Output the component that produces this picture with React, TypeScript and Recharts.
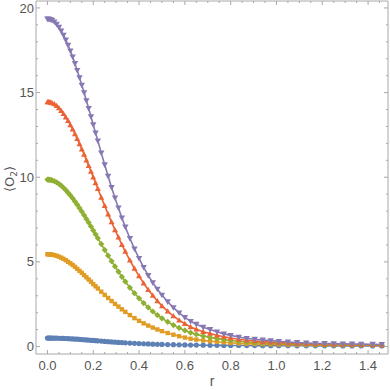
import React from 'react';
import { LineChart, Line, XAxis, YAxis } from 'recharts';

const rValues = [0, 0.005, 0.01, 0.015, 0.02, 0.03, 0.04, 0.05, 0.06, 0.07, 0.08, 0.09, 0.1, 0.11, 0.12, 0.13, 0.14, 0.15, 0.16, 0.17, 0.18, 0.19, 0.2, 0.21, 0.22, 0.235, 0.25, 0.265, 0.28, 0.295, 0.31, 0.325, 0.34, 0.36, 0.38, 0.4, 0.42, 0.44, 0.46, 0.48, 0.5, 0.525, 0.55, 0.575, 0.6, 0.625, 0.65, 0.68, 0.71, 0.74, 0.77, 0.8, 0.835, 0.87, 0.905, 0.94, 0.975, 1.01, 1.05, 1.09, 1.13, 1.17, 1.21, 1.25, 1.29, 1.33, 1.37, 1.42, 1.46];

const blueSeries = [0.5, 0.5, 0.5, 0.5, 0.499, 0.497, 0.494, 0.49, 0.486, 0.481, 0.475, 0.468, 0.46, 0.452, 0.443, 0.434, 0.424, 0.414, 0.403, 0.392, 0.381, 0.37, 0.359, 0.348, 0.337, 0.321, 0.305, 0.29, 0.275, 0.26, 0.246, 0.233, 0.22, 0.204, 0.19, 0.176, 0.164, 0.153, 0.143, 0.134, 0.126, 0.117, 0.109, 0.102, 0.096, 0.09, 0.085, 0.08, 0.075, 0.071, 0.067, 0.064, 0.061, 0.058, 0.055, 0.053, 0.051, 0.049, 0.047, 0.045, 0.044, 0.042, 0.041, 0.04, 0.039, 0.038, 0.037, 0.036, 0.035];

const orangeSeries = [5.45, 5.45, 5.44, 5.44, 5.43, 5.4, 5.36, 5.31, 5.25, 5.18, 5.1, 5.01, 4.92, 4.82, 4.71, 4.59, 4.47, 4.35, 4.22, 4.09, 3.96, 3.83, 3.69, 3.56, 3.43, 3.24, 3.05, 2.87, 2.69, 2.52, 2.36, 2.2, 2.05, 1.86, 1.68, 1.52, 1.37, 1.24, 1.12, 1.01, 0.91, 0.8, 0.7, 0.61, 0.53, 0.46, 0.41, 0.36, 0.32, 0.28, 0.25, 0.22, 0.19, 0.17, 0.155, 0.145, 0.135, 0.125, 0.115, 0.11, 0.105, 0.1, 0.097, 0.094, 0.091, 0.088, 0.085, 0.082, 0.08];

const greenSeries = [9.86, 9.86, 9.85, 9.84, 9.82, 9.77, 9.7, 9.61, 9.51, 9.38, 9.24, 9.09, 8.93, 8.76, 8.57, 8.38, 8.18, 7.97, 7.76, 7.54, 7.32, 7.09, 6.86, 6.63, 6.4, 6.05, 5.71, 5.37, 5.04, 4.73, 4.42, 4.12, 3.84, 3.48, 3.15, 2.85, 2.57, 2.31, 2.07, 1.86, 1.67, 1.46, 1.27, 1.1, 0.95, 0.82, 0.72, 0.62, 0.54, 0.47, 0.41, 0.36, 0.31, 0.27, 0.235, 0.21, 0.19, 0.17, 0.15, 0.135, 0.125, 0.115, 0.11, 0.105, 0.1, 0.095, 0.09, 0.085, 0.08];

const redSeries = [14.45, 14.45, 14.44, 14.42, 14.39, 14.32, 14.22, 14.09, 13.93, 13.75, 13.55, 13.33, 13.09, 12.83, 12.56, 12.27, 11.97, 11.66, 11.34, 11.01, 10.68, 10.34, 10.0, 9.66, 9.32, 8.81, 8.31, 7.82, 7.35, 6.89, 6.45, 6.02, 5.61, 5.09, 4.61, 4.16, 3.74, 3.36, 3.01, 2.69, 2.4, 2.08, 1.8, 1.56, 1.35, 1.16, 1.02, 0.88, 0.77, 0.67, 0.58, 0.5, 0.43, 0.37, 0.33, 0.29, 0.26, 0.23, 0.2, 0.18, 0.16, 0.145, 0.137, 0.13, 0.123, 0.116, 0.108, 0.1, 0.094];

const purpleSeries = [19.35, 19.35, 19.33, 19.31, 19.27, 19.18, 19.04, 18.87, 18.65, 18.4, 18.11, 17.8, 17.47, 17.11, 16.72, 16.31, 15.89, 15.44, 15.0, 14.53, 14.07, 13.58, 13.1, 12.62, 12.15, 11.44, 10.74, 10.06, 9.4, 8.78, 8.19, 7.6, 7.06, 6.39, 5.77, 5.21, 4.68, 4.2, 3.77, 3.39, 3.04, 2.65, 2.3, 1.99, 1.72, 1.49, 1.32, 1.14, 1.01, 0.87, 0.75, 0.66, 0.56, 0.48, 0.43, 0.39, 0.35, 0.31, 0.27, 0.24, 0.21, 0.19, 0.18, 0.17, 0.16, 0.155, 0.145, 0.135, 0.125];

const xMajorTicks = [0, 0.2, 0.4, 0.6, 0.8, 1.0, 1.2, 1.4];
const xTickLabels = ['0.0', '0.2', '0.4', '0.6', '0.8', '1.0', '1.2', '1.4'];
const xAllTicks = [0, 0.05, 0.1, 0.15, 0.2, 0.25, 0.3, 0.35, 0.4, 0.45, 0.5, 0.55, 0.6, 0.65, 0.7, 0.75, 0.8, 0.85, 0.9, 0.95, 1.0, 1.05, 1.1, 1.15, 1.2, 1.25, 1.3, 1.35, 1.4, 1.45];
const yMajorTicks = [0, 5, 10, 15, 20];
const yTickLabels = ['0', '5', '10', '15', '20'];
const yAllTicks = [0, 1, 2, 3, 4, 5, 6, 7, 8, 9, 10, 11, 12, 13, 14, 15, 16, 17, 18, 19, 20];

const xDomain = [-0.05, 1.487];
const yDomain = [-0.44, 20.41];

const data = rValues.map((r, i) => ({
  r,
  s1: blueSeries[i],
  s2: orangeSeries[i],
  s3: greenSeries[i],
  s4: redSeries[i],
  s5: purpleSeries[i],
}));

const FRAME = '#a8a8a8';
const TEXT = '#555555';
const FONT = '"Liberation Sans", Arial, sans-serif';
const MAJOR_LEN = 4;
const MINOR_LEN = 2;
const M = 10;
const TICK_FS = 13;

const COLORS = {
  blue: '#5E81B5',
  orange: '#E19C24',
  green: '#8FB032',
  red: '#EB6235',
  purple: '#8778B3',
};

const majorIndex = (list: number[], v: number) => list.findIndex((t) => Math.abs(t - v) < 1e-6);

const BottomTick = (p: any) => {
  const fy = p.y - M;
  const i = majorIndex(xMajorTicks, p.payload.value);
  const len = i >= 0 ? MAJOR_LEN : MINOR_LEN;
  return (
    <g>
      <line x1={p.x} x2={p.x} y1={fy} y2={fy - len} stroke={FRAME} />
      {i >= 0 && (
        <text x={p.x} y={fy + 15.5} textAnchor="middle" fill={TEXT} fontSize={TICK_FS} fontFamily={FONT}>{xTickLabels[i]}</text>
      )}
    </g>
  );
};
const TopTick = (p: any) => {
  const fy = p.y + M;
  const i = majorIndex(xMajorTicks, p.payload.value);
  const len = i >= 0 ? MAJOR_LEN : MINOR_LEN;
  return <line x1={p.x} x2={p.x} y1={fy} y2={fy + len} stroke={FRAME} />;
};
const LeftTick = (p: any) => {
  const fx = p.x + M;
  const i = majorIndex(yMajorTicks, p.payload.value);
  const len = i >= 0 ? MAJOR_LEN : MINOR_LEN;
  return (
    <g>
      <line x1={fx} x2={fx + len} y1={p.y} y2={p.y} stroke={FRAME} />
      {i >= 0 && (
        <text x={fx - 2} y={p.y + 4.6} textAnchor="end" fill={TEXT} fontSize={TICK_FS} fontFamily={FONT}>{yTickLabels[i]}</text>
      )}
    </g>
  );
};
const RightTick = (p: any) => {
  const fx = p.x - M;
  const i = majorIndex(yMajorTicks, p.payload.value);
  const len = i >= 0 ? MAJOR_LEN : MINOR_LEN;
  return <line x1={fx} x2={fx - len} y1={p.y} y2={p.y} stroke={FRAME} />;
};

type DotP = { cx?: number; cy?: number; index?: number };

const circleDot = (p: DotP) => (
  <circle key={`c${p.index}`} cx={p.cx} cy={p.cy} r={2.6} fill={COLORS.blue} />
);
const squareDot = (p: DotP) => (
  <rect key={`s${p.index}`} x={(p.cx as number) - 2.2} y={(p.cy as number) - 2.2} width={4.4} height={4.4} fill={COLORS.orange} />
);
const diamondDot = (p: DotP) => {
  const x = p.cx as number, y = p.cy as number, d = 3.1;
  return <path key={`d${p.index}`} d={`M${x},${y - d}L${x + d},${y}L${x},${y + d}L${x - d},${y}Z`} fill={COLORS.green} />;
};
const upDot = (p: DotP) => {
  const x = p.cx as number, y = p.cy as number, s = 3;
  return <path key={`u${p.index}`} d={`M${x},${y - s}L${x + s},${y + s * 0.75}L${x - s},${y + s * 0.75}Z`} fill={COLORS.red} />;
};
const downDot = (p: DotP) => {
  const x = p.cx as number, y = p.cy as number, s = 3.2;
  return <path key={`v${p.index}`} d={`M${x},${y + s}L${x + s},${y - s * 0.75}L${x - s},${y - s * 0.75}Z`} fill={COLORS.purple} />;
};

const XLabel = () => (
  <text x={212} y={386} textAnchor="middle" fill={TEXT} fontSize={14} fontFamily={FONT}>r</text>
);
const YLabel = () => (
  <text x={0} y={0} transform="translate(13.5,179) rotate(-90)" textAnchor="middle" fill={TEXT} fontSize={13} fontFamily='"DejaVu Sans", sans-serif'>
    ⟨O<tspan fontSize={9} dy={3}>2</tspan><tspan dy={-3}>⟩</tspan>
  </text>
);

export default function App() {
  return (
    <div style={{ position: 'absolute', left: 0, top: 0, width: 390, height: 390, background: '#fff' }}>
      <LineChart width={390} height={390} data={data} margin={{ top: 0, right: 0, bottom: 0, left: 0 }}>
        <XAxis
          xAxisId="x"
          dataKey="r"
          type="number"
          orientation="bottom"
          domain={xDomain}
          allowDataOverflow
          ticks={xAllTicks}
          interval={0}
          height={36}
          tickSize={0}
          tickMargin={M}
          axisLine={{ stroke: FRAME }}
          tickLine={false}
          tick={BottomTick}
          label={XLabel}
        />
        <XAxis xAxisId="xt" dataKey="r" type="number" orientation="top" domain={xDomain} allowDataOverflow ticks={xAllTicks} interval={0} height={1} tickSize={0} tickMargin={M} axisLine={{ stroke: FRAME }} tickLine={false} tick={TopTick} />
        <YAxis
          yAxisId="y"
          type="number"
          orientation="left"
          domain={yDomain}
          allowDataOverflow
          ticks={yAllTicks}
          interval={0}
          width={36}
          tickSize={0}
          tickMargin={M}
          axisLine={{ stroke: FRAME }}
          tickLine={false}
          tick={LeftTick}
          label={YLabel}
        />
        <YAxis yAxisId="yr" dataKey="s5" type="number" orientation="right" domain={yDomain} allowDataOverflow ticks={yAllTicks} interval={0} width={2} tickSize={0} tickMargin={M} axisLine={{ stroke: FRAME }} tickLine={false} tick={RightTick} />
        <Line xAxisId="x" yAxisId="y" type="linear" dataKey="s1" stroke={COLORS.blue} strokeWidth={1.6} dot={circleDot} activeDot={false} isAnimationActive={false} />
        <Line xAxisId="x" yAxisId="y" type="linear" dataKey="s2" stroke={COLORS.orange} strokeWidth={1.6} dot={squareDot} activeDot={false} isAnimationActive={false} />
        <Line xAxisId="x" yAxisId="y" type="linear" dataKey="s3" stroke={COLORS.green} strokeWidth={1.6} dot={diamondDot} activeDot={false} isAnimationActive={false} />
        <Line xAxisId="x" yAxisId="y" type="linear" dataKey="s4" stroke={COLORS.red} strokeWidth={1.6} dot={upDot} activeDot={false} isAnimationActive={false} />
        <Line xAxisId="x" yAxisId="y" type="linear" dataKey="s5" stroke={COLORS.purple} strokeWidth={1.6} dot={downDot} activeDot={false} isAnimationActive={false} />
      </LineChart>
    </div>
  );
}
